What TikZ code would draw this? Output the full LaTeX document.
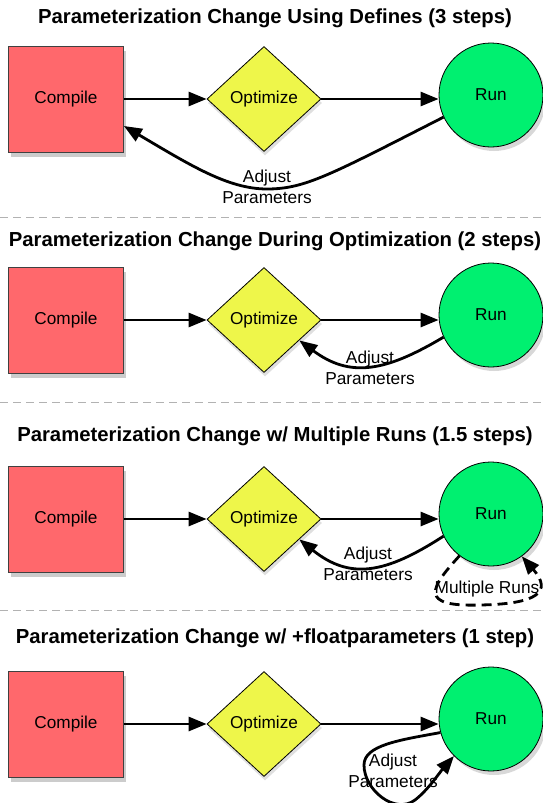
\documentclass[tikz,border=0pt]{standalone}
\usepackage{fontspec}
\setmainfont{Liberation Sans}
\usetikzlibrary{shapes.geometric,arrows.meta,shadows}
\definecolor{boxred}{RGB}{255,104,108}
\definecolor{optyellow}{RGB}{238,246,74}
\definecolor{rungreen}{RGB}{0,240,112}
\begin{document}
\begin{tikzpicture}[x=1pt,y=-1pt,
  compilebox/.style={rectangle, draw=black!75, line width=0.8pt, fill=boxred,
    minimum width=115pt, minimum height=106pt, inner sep=0pt,
    font=\fontsize{17.2}{19}\selectfont,
    drop shadow={opacity=0.4, shadow xshift=2pt, shadow yshift=-5pt}},
  optbox/.style={diamond, draw=black, line width=0.8pt, fill=optyellow,
    minimum width=114pt, minimum height=105pt, inner sep=0pt,
    font=\fontsize{17.2}{19}\selectfont,
    drop shadow={opacity=0.25, shadow xshift=1pt, shadow yshift=-4pt}},
  runbox/.style={circle, draw=black, line width=0.8pt, fill=rungreen,
    minimum size=104pt, inner sep=0pt, font=\fontsize{17.2}{19}\selectfont,
    drop shadow={opacity=0.3, shadow xshift=3pt, shadow yshift=-4pt}},
  conn/.style={line width=2.8pt, -{Triangle[length=18pt,width=14pt]}},
  dashconn/.style={line width=2.8pt, dash pattern=on 10pt off 6pt, -{Triangle[length=18pt,width=14pt]}},
  ttl/.style={font=\bfseries\fontsize{20.3}{23}\selectfont, inner sep=0pt},
  lbl/.style={font=\fontsize{17.3}{20.5}\selectfont, align=center, inner sep=0pt},
  sepline/.style={gray!60, line width=1pt, dash pattern=on 8pt off 5pt}]
\useasboundingbox (0,0) rectangle (543,803);
\fill[white] (0,0) rectangle (543,803);

% ---------- Panel 1 ----------
\node[ttl] (t1) at (275,18) {Parameterization Change Using Defines (3 steps)};
\node[compilebox] (c1) at (66,99) {Compile};
\node[optbox] (o1) at (264,99) {Optimize};
\node[runbox] (r1) at (491,95) {Run};
\draw[conn] (c1.east) -- (o1.west);
\draw[conn] (o1.east) -- (o1.east -| r1.west);
\node[lbl] (a1) at (267,187) {Adjust\\Parameters};
\draw[conn] (r1.205) .. controls (330,175) and (305,189) .. (267,189)
   .. controls (228,189) and (190,165) .. (c1.335);
\draw[sepline] (0,217) -- (543,217);

% ---------- Panel 2 ----------
\node[ttl] (t2) at (275,241) {Parameterization Change During Optimization (2 steps)};
\node[compilebox] (c2) at (66,320) {Compile};
\node[optbox] (o2) at (264,320) {Optimize};
\node[runbox] (r2) at (491,315) {Run};
\draw[conn] (c2.east) -- (o2.west);
\draw[conn] (o2.east) -- (o2.east -| r2.west);
\node[lbl] (a2) at (370,368) {Adjust\\Parameters};
\draw[conn] (r2.205) .. controls (385,372) and (350,378) .. (o2.-30);
\draw[sepline] (0,402) -- (543,402);

% ---------- Panel 3 ----------
\node[ttl] (t3) at (275,436) {Parameterization Change w/ Multiple Runs (1.5 steps)};
\node[compilebox] (c3) at (66,519) {Compile};
\node[optbox] (o3) at (264,519) {Optimize};
\node[runbox] (r3) at (491,514) {Run};
\draw[conn] (c3.east) -- (o3.west);
\draw[conn] (o3.east) -- (o3.east -| r3.west);
\node[lbl] (a3) at (368,564) {Adjust\\Parameters};
\draw[conn] (r3.205) .. controls (385,574) and (350,580) .. (o3.-30);
\node[lbl] (m3) at (487,589) {Multiple Runs};
\draw[dashconn] (r3.233) .. controls (430,588) and (418,607) .. (480,605)
   .. controls (537,604) and (553,592) .. (r3.306);
\draw[sepline] (0,610) -- (543,610);

% ---------- Panel 4 ----------
\node[ttl] (t4) at (275,638) {Parameterization Change w/ +floatparameters (1 step)};
\node[compilebox] (c4) at (66,724) {Compile};
\node[optbox] (o4) at (264,724) {Optimize};
\node[runbox] (r4) at (491,719) {Run};
\draw[conn] (c4.east) -- (o4.west);
\draw[conn] (o4.east) -- (o4.east -| r4.west);
\node[lbl] (a4) at (393,771) {Adjust\\Parameters};
\draw[conn] (r4.195) .. controls (400,740) and (364,745) .. (364,765)
   .. controls (364,790) and (395,815) .. (415,800)
   .. controls (428,790) and (440,772) .. (r4.225);
\end{tikzpicture}
\end{document}
